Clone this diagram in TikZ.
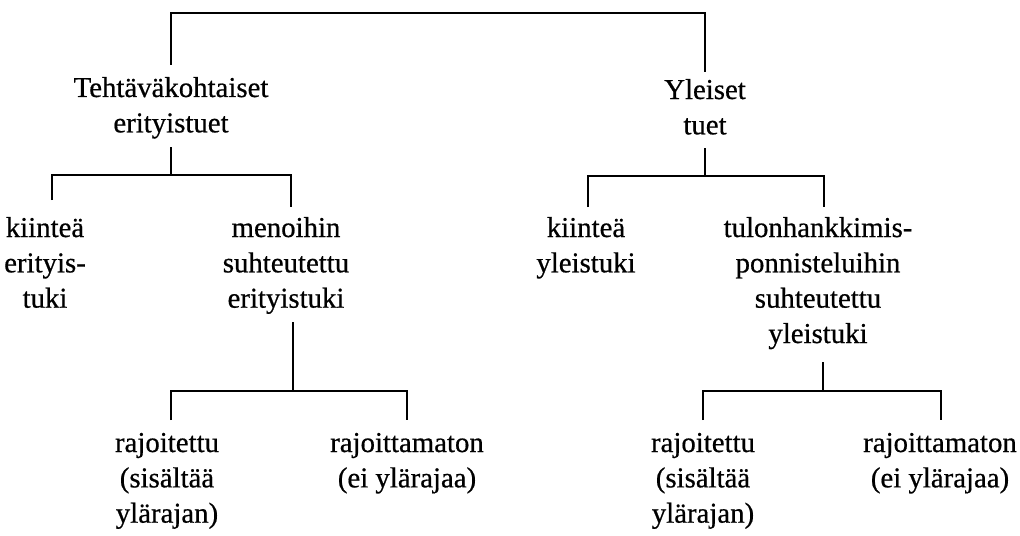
\documentclass[tikz,border=0pt]{standalone}
\usepackage{fontspec}
\newfontfamily\reffont{Liberation Serif}[FakeBold=0.6]
\newcommand{\lstack}[1]{\begin{tabular}[t]{@{}c@{}}#1\end{tabular}}
\begin{document}
\begin{tikzpicture}[x=0.75pt,y=-0.75pt,
  lbl/.style={inner sep=0pt, anchor=base, font=\reffont\fontsize{21.6}{26.5}\selectfont},
  conn/.style={line width=0.8pt, black}]
\useasboundingbox (0,0) rectangle (1020,535);
% nodes
\node[lbl] (teh) at (171,97) {\lstack{Tehtäväkohtaiset\\erityistuet}};
\node[lbl] (yle) at (705,99) {\lstack{Yleiset\\tuet}};
\node[lbl] (kie1) at (45,237) {\lstack{kiinteä\\erityis-\\tuki}};
\node[lbl] (men) at (286,237) {\lstack{menoihin\\suhteutettu\\erityistuki}};
\node[lbl] (kie2) at (586,237) {\lstack{kiinteä\\yleistuki}};
\node[lbl] (tul) at (818,237) {\lstack{tulonhankkimis-\\ponnisteluihin\\suhteutettu\\yleistuki}};
\node[lbl] (raj1) at (167,452) {\lstack{rajoitettu\\(sisältää\\ylärajan)}};
\node[lbl] (rjm1) at (407,452) {\lstack{rajoittamaton\\(ei ylärajaa)}};
\node[lbl] (raj2) at (703,452) {\lstack{rajoitettu\\(sisältää\\ylärajan)}};
\node[lbl] (rjm2) at (940,452) {\lstack{rajoittamaton\\(ei ylärajaa)}};
% bar heights
\coordinate (bar0) at (0,13);
\coordinate (bar1) at (0,175);
\coordinate (bar2) at (0,391);
% top bracket
\draw[conn] (teh.north |- 0,65) -- (teh.north |- bar0) -- (yle.north |- bar0) -- (yle.north |- 0,72);
% level 1 left
\draw[conn] (teh.south |- 0,147) -- (teh.south |- bar1);
\draw[conn] (52,200) -- (52,175) -- (291,175) -- (291,207);
% level 1 right
\draw[conn] (yle.south |- 0,148) -- (yle.south |- 0,176);
\draw[conn] (588,207) -- (588,176) -- (824,176) -- (824,207);
% level 2 left
\draw[conn] (293,322) -- (293,391);
\draw[conn] (171,420) -- (171,391) -- (407,391) -- (407,420);
% level 2 right
\draw[conn] (823,362) -- (823,391);
\draw[conn] (703,420) -- (703,391) -- (941,391) -- (941,420);
\end{tikzpicture}
\end{document}
